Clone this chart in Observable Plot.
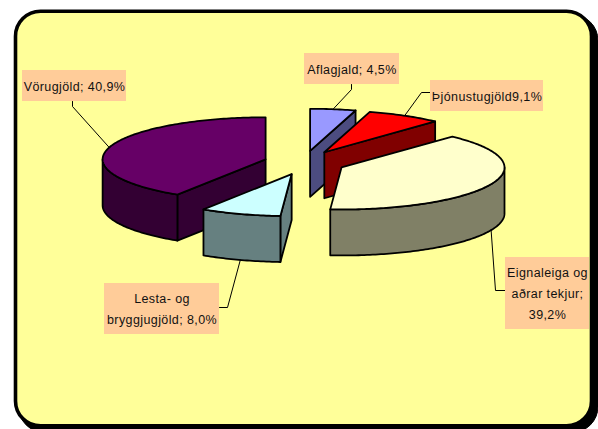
<!DOCTYPE html>
<html>
<head>
<meta charset="utf-8">
<style>html,body{margin:0;padding:0;background:#fff}svg{display:block}svg text{letter-spacing:.4px}</style>
<script src="https://cdn.jsdelivr.net/npm/d3@7"></script>
<script src="https://cdn.jsdelivr.net/npm/@observablehq/plot@0.6"></script>
</head>
<body>
<script>
const names = ["Aflagjald", "Þjónustugjöld", "Eignaleiga og aðrar tekjur", "Lesta- og bryggjugjöld", "Vörugjöld"];
// Slice sizes. The red wedge measures about 7.4%,
// although its printed label says 9,1%; the label text below is kept as printed.
const shares = [4.5, 7.4, 39.2, 8.0, 40.9];
const labels = ["Aflagjald; 4,5%", "Þjónustugjöld9,1%", "Eignaleiga og\naðrar tekjur;\n39,2%", "Lesta- og\nbryggjugjöld; 8,0%", "Vörugjöld; 40,9%"];
const topColors = ["#9999FF", "#FF0000", "#FFFFCC", "#CCFFFF", "#660066"];
const sideColors = ["#4C4C80", "#800000", "#808066", "#668080", "#330033"];

// pie projection and label placement (options for the drawing)
const pie = {cx: 303.9, cy: 162.2, rx: 163, ry: 42, explodeX: 0.248, explodeY: 0.286, depth: 46};
const boxes = [
  {x1: 304, x2: 399, y1: 53, y2: 84, elbowX: 351, elbowY: 89, endX: 351, endY: 84},
  {x1: 430, x2: 543, y1: 80, y2: 111, elbowX: 421, elbowY: 92, endX: 430, endY: 92},
  {x1: 505, x2: 589, y1: 257, y2: 329, elbowX: 495, elbowY: 290, endX: 505, endY: 290},
  {x1: 104, x2: 219, y1: 283, y2: 334, elbowX: 227, elbowY: 307, endX: 219, endY: 307},
  {x1: 22, x2: 126, y1: 70, y2: 101, elbowX: 72, elbowY: 106, endX: 72, endY: 101}
];

const total = d3.sum(shares);
const rad = d => d * Math.PI / 180;
let acc = 0;
const slices = shares.map((v, i) => {
  const a0 = acc / total * 360; acc += v;
  const a1 = acc / total * 360; const mid = (a0 + a1) / 2;
  const ax = pie.cx + pie.explodeX * pie.rx * Math.sin(rad(mid));
  const ay = pie.cy - pie.explodeY * pie.ry * Math.cos(rad(mid));
  return {i, a0, a1, mid, ax, ay};
});
const rim = (s, a) => [s.ax + pie.rx * Math.sin(rad(a)), s.ay - pie.ry * Math.cos(rad(a))];
const arc = (s, from, to) => {
  const n = Math.max(2, Math.ceil(to - from));
  return d3.range(n + 1).map(k => rim(s, from + (to - from) * k / n));
};

const faces = [];
const addFace = (id, fill, pts) => pts.forEach(p => faces.push({id, fill, x: p[0], y: p[1]}));
const extrude = pts => pts.concat(pts.slice().reverse().map(p => [p[0], p[1] + pie.depth]));

d3.sort(slices, s => s.ay).forEach(s => {
  const apex = [s.ax, s.ay];
  const side = sideColors[s.i];
  const start = rim(s, s.a0), end = rim(s, s.a1);
  if (start[0] < apex[0]) addFace(`s${s.i}a`, side, extrude([apex, start]));
  if (end[0] > apex[0]) addFace(`s${s.i}b`, side, extrude([end, apex]));
  const from = Math.max(s.a0, 90), to = Math.min(s.a1, 270);
  if (to > from) addFace(`s${s.i}c`, side, extrude(arc(s, from, to)));
  addFace(`s${s.i}t`, topColors[s.i], [apex, ...arc(s, s.a0, s.a1)]);
});

const leaders = [];
slices.forEach(s => {
  const b = boxes[s.i];
  const p = rim(s, s.mid);
  const front = s.mid > 90 && s.mid < 270;
  [[p[0], p[1] + (front ? pie.depth : 0)], [b.elbowX, b.elbowY], [b.endX, b.endY]]
    .forEach(q => leaders.push({id: s.i, x: q[0], y: q[1]}));
});
const labelRows = names.map((n, i) => ({
  name: n, text: labels[i], ...boxes[i],
  cx: (boxes[i].x1 + boxes[i].x2) / 2, cy: (boxes[i].y1 + boxes[i].y2) / 2
}));

const chart = Plot.plot({
  width: 598, height: 429, margin: 0,
  x: {domain: [0, 598], range: [0, 598], axis: null},
  y: {domain: [0, 429], range: [0, 429], axis: null},
  color: {type: "identity"},
  style: {background: "#fff"},
  marks: [
    Plot.frame({fill: "#000", stroke: "#000", rx: 26, insetLeft: 18, insetTop: 14, insetRight: 0.5, insetBottom: -3}),
    Plot.frame({fill: "#FFFF99", stroke: "#000", strokeWidth: 3.6, rx: 25, insetLeft: 15, insetTop: 10.7, insetRight: 7, insetBottom: 3.6}),
    Plot.line(faces, {x: "x", y: "y", z: "id", fill: "fill", stroke: "#000", strokeWidth: 1.8, strokeLinejoin: "round", curve: "linear-closed"}),
    Plot.line(leaders, {x: "x", y: "y", z: "id", stroke: "#000", strokeWidth: 1, curve: "linear"}),
    Plot.rect(labelRows, {x1: "x1", x2: "x2", y1: "y1", y2: "y2", fill: "#FFCC99"}),
    Plot.text(labelRows, {x: "cx", y: "cy", dy: -2, text: "text", fill: "#111", fontSize: 12.5, lineHeight: 1.66, fontFamily: "Liberation Sans", textAnchor: "middle"})
  ]
});
document.body.appendChild(chart);
</script>
</body>
</html>
